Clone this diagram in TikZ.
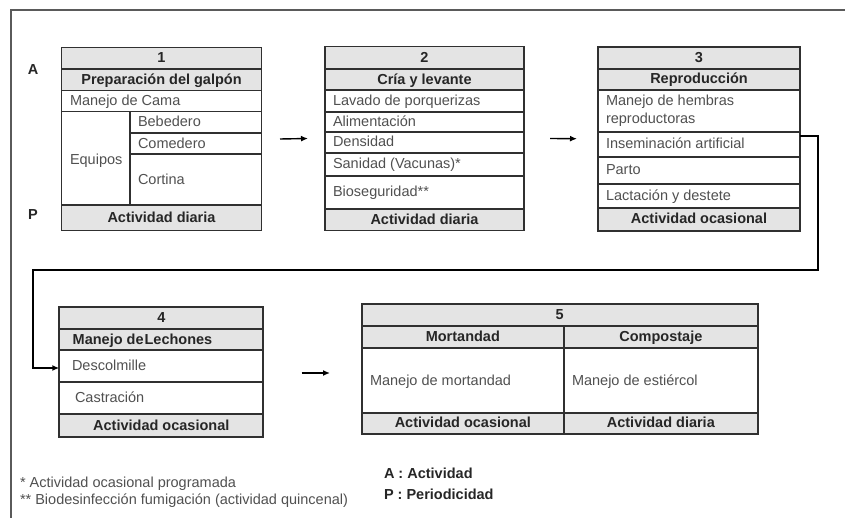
\documentclass[tikz,border=0pt]{standalone}
\usepackage{fontspec}
\setmainfont{Liberation Sans}
\usetikzlibrary{arrows.meta}
\definecolor{cellgray}{HTML}{E4E4E4}
\definecolor{linec}{HTML}{303030}
\definecolor{txtc}{HTML}{505050}
\definecolor{boldc}{HTML}{262626}
\definecolor{framec}{HTML}{5A5A5A}
\tikzset{
  every node/.style={inner sep=0pt, outer sep=0pt},
  body/.style={anchor=west, text=txtc, text height=12pt, text depth=3pt, font=\fontsize{14.5}{18}\selectfont},
  head/.style={text=boldc, text height=12pt, text depth=3pt, font=\fontsize{14.5}{16}\selectfont\bfseries},
  boxframe/.style={draw=linec, line width=1.8pt, anchor=north west},
  sep/.style={draw=linec, line width=1.7pt},
  flow/.style={draw=black, line width=1.4pt, -{Latex[length=7pt,width=6pt]}},
}
\begin{document}
\begin{tikzpicture}[x=1pt,y=-1pt]
\useasboundingbox (0,0) rectangle (845,518);
% outer frame
\draw[framec, line width=2pt] (845,10) -- (11,10) -- (11,518);

% ---------- Box 1 ----------
\fill[cellgray] (61.5,47.5) rectangle (261.5,90.5);
\fill[cellgray] (61.5,205) rectangle (261.5,230.5);
\node[boxframe, minimum width=200pt, minimum height=183pt] (b1) at (61.5,47.5) {};
\draw[sep] (61.5,69) -- (261.5,69);
\draw[sep] (61.5,90.5) -- (261.5,90.5);
\draw[sep] (61.5,111.5) -- (261.5,111.5);
\draw[sep] (130,133.3) -- (261.5,133.3);
\draw[sep] (130,154) -- (261.5,154);
\draw[sep] (61.5,205) -- (261.5,205);
\draw[sep] (130,111.5) -- (130,205);
\node[head] (b1n) at (161.5,58.3) {1};
\node[head] (b1t) at (161.5,79.8) {Preparación del galpón};
\node[body] (b1a) at (70,101) {Manejo de Cama};
\node[body] (b1e) at (70,160) {Equipos};
\node[body] (b1b) at (138,122.4) {Bebedero};
\node[body] (b1c) at (138,143.7) {Comedero};
\node[body] (b1d) at (138,180) {Cortina};
\node[head] (b1p) at (161.5,217.8) {Actividad diaria};

% ---------- Box 2 ----------
\fill[cellgray] (325,46.5) rectangle (524,90);
\fill[cellgray] (325,209) rectangle (524,230.5);
\node[boxframe, minimum width=199pt, minimum height=184pt] (b2) at (325,46.5) {};
\foreach \yy in {69.3,90,111.7,131.7,152.7,175.7,209}
  \draw[sep] (325,\yy) -- (524,\yy);
\node[head] (b2n) at (424.5,57.9) {2};
\node[head] (b2t) at (424.5,79.6) {Cría y levante};
\node[body] (b2a) at (333,100.8) {Lavado de porquerizas};
\node[body] (b2b) at (333,121.7) {Alimentación};
\node[body] (b2c) at (333,142.2) {Densidad};
\node[body] (b2d) at (333,164.2) {Sanidad (Vacunas)*};
\node[body] (b2e) at (333,192.3) {Bioseguridad**};
\node[head] (b2p) at (424.5,219.7) {Actividad diaria};

% ---------- Box 3 ----------
\fill[cellgray] (598,46.7) rectangle (800,90);
\fill[cellgray] (598,208) rectangle (800,230.7);
\node[boxframe, minimum width=202pt, minimum height=184pt] (b3) at (598,46.7) {};
\foreach \yy in {69,90,131.7,156.7,184,208}
  \draw[sep] (598,\yy) -- (800,\yy);
\node[head] (b3n) at (699,57.8) {3};
\node[head] (b3t) at (699,79.5) {Reproducción};
\node[anchor=west, text=txtc, font=\fontsize{14.5}{18}\selectfont, align=left] (b3a) at (606,110.8) {Manejo de hembras\\reproductoras};
\node[body] (b3b) at (606,144.2) {Inseminación artificial};
\node[body] (b3c) at (606,170.3) {Parto};
\node[body] (b3d) at (606,196) {Lactación y destete};
\node[head] (b3p) at (699,219.3) {Actividad ocasional};

% ---------- Box 4 ----------
\fill[cellgray] (59.3,307.3) rectangle (263.3,350);
\fill[cellgray] (59.3,414.3) rectangle (263.3,436.7);
\node[boxframe, minimum width=204pt, minimum height=129.4pt] (b4) at (59.3,307.3) {};
\foreach \yy in {329,350,381.7,414.3}
  \draw[sep] (59.3,\yy) -- (263.3,\yy);
\node[head] (b4n) at (161.3,318.2) {4};
\node[head, anchor=west] (b4t) at (72.7,339.5) {Manejo de\hspace{1pt}Lechones};
\node[body] (b4a) at (72,366) {Descolmille};
\node[body] (b4b) at (75,398) {Castración};
\node[head] (b4p) at (161.3,425.5) {Actividad ocasional};

% ---------- Box 5 ----------
\fill[cellgray] (361.7,304) rectangle (757.7,348.3);
\fill[cellgray] (361.7,412.7) rectangle (757.7,434);
\node[boxframe, minimum width=396pt, minimum height=130pt] (b5) at (361.7,304) {};
\foreach \yy in {326,348.3,412.7}
  \draw[sep] (361.7,\yy) -- (757.7,\yy);
\draw[sep] (564,326) -- (564,434);
\node[head] (b5n) at (559.7,315) {5};
\node[head] (b5t1) at (462.85,337.2) {Mortandad};
\node[head] (b5t2) at (660.85,337.2) {Compostaje};
\node[body] (b5a) at (370,380.5) {Manejo de mortandad};
\node[body] (b5b) at (572,380.5) {Manejo de estiércol};
\node[head] (b5p1) at (462.85,423.4) {Actividad ocasional};
\node[head] (b5p2) at (660.85,423.4) {Actividad diaria};

% ---------- connectors ----------
\draw[flow] ([xshift=18.5pt]b1.east) -- ([xshift=-17pt]b2.west);
\draw[flow] ([xshift=26pt]b2.east) -- ([xshift=-21pt]b3.west);
\coordinate (k1) at (818,136);
\coordinate (k2) at (818,270);
\coordinate (k3) at (33,270);
\coordinate (k4) at (33,368);
\draw[flow] (b3.east |- k1) -- (k1) -- (k2) -- (k3) -- (k4) -- (b4.west |- k4);
\coordinate (k5) at (301.7,373);
\coordinate (k6) at (330,373);
\draw[flow] (k5) -- (k6);

% ---------- side labels ----------
\node[head] (lA) at (33,70) {A};
\node[head] (lP) at (33,215) {P};

% ---------- footer ----------
\node[body] (f1) at (20,482.5) {* Actividad ocasional programada};
\node[body] (f2) at (20,500) {** Biodesinfección fumigación (actividad quincenal)};
\node[head, anchor=west] (fA) at (384,474) {A : Actividad};
\node[head, anchor=west] (fP) at (384,495) {P : Periodicidad};
\end{tikzpicture}
\end{document}
